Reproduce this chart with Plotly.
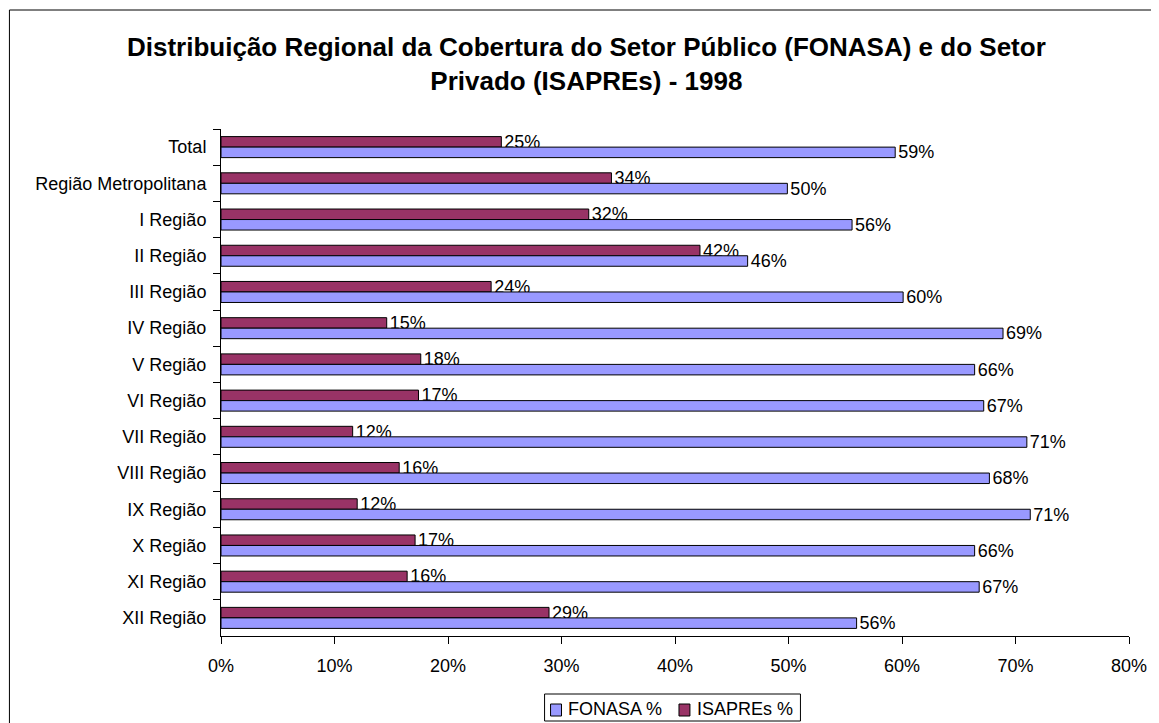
import plotly.graph_objects as go

categories = ["Total", "Região Metropolitana", "I Região", "II Região", "III Região",
              "IV Região", "V Região", "VI Região", "VII Região", "VIII Região",
              "IX Região", "X Região", "XI Região", "XII Região"]
fonasa = [59.4, 49.9, 55.6, 46.4, 60.1, 68.9, 66.4, 67.2, 71.0, 67.7, 71.3, 66.4, 66.8, 56.0]
isapres = [24.7, 34.4, 32.4, 42.2, 23.8, 14.6, 17.6, 17.4, 11.6, 15.7, 12.0, 17.1, 16.4, 28.9]

FONASA_COLOR = "#9999FF"
ISAPRE_COLOR = "#993366"
FONT = "Liberation Sans, Arial, sans-serif"

# the page body has an 8px margin; work in page pixels and convert
OFF = 8
W, H = 1159 - OFF, 723 - OFF
L, R, T, B = 221 - OFF, 1133 - OFF, 129 - OFF, 636 - OFF


def px_x(px):
    return ((px - OFF) - L) / (R - L)


def px_y(py):
    return (B - (py - OFF)) / (B - T)


fig = go.Figure()
fig.add_trace(go.Bar(
    y=categories, x=isapres, orientation="h", name="ISAPREs %",
    marker=dict(color=ISAPRE_COLOR, line=dict(color="black", width=1)),
    text=[f"{v:.0f}%" for v in isapres], textposition="outside",
    textfont=dict(size=18, color="black", family=FONT),
    constraintext="none", cliponaxis=False, showlegend=False,
))
fig.add_trace(go.Bar(
    y=categories, x=fonasa, orientation="h", name="FONASA %",
    marker=dict(color=FONASA_COLOR, line=dict(color="black", width=1)),
    text=[f"{v:.0f}%" for v in fonasa], textposition="outside",
    textfont=dict(size=18, color="black", family=FONT),
    constraintext="none", cliponaxis=False, showlegend=False,
))

fig.update_layout(
    width=W, height=H,
    margin=dict(l=L, r=W - R, t=T, b=H - B, pad=0),
    paper_bgcolor="white", plot_bgcolor="white",
    barmode="group", bargap=0.42, bargroupgap=0,
    font=dict(family=FONT, size=18, color="black"),
    xaxis=dict(range=[0, 80], tickmode="linear", tick0=0, dtick=10, ticksuffix="%",
               showgrid=False, zeroline=False, showline=True, linecolor="black",
               linewidth=1, ticks="outside", ticklen=7, tickcolor="black",
               ticklabelstandoff=6, tickfont=dict(size=18)),
    yaxis=dict(categoryorder="array", categoryarray=categories, autorange="reversed",
               showgrid=False, zeroline=False, showline=True, linecolor="black",
               linewidth=1, ticks="outside", ticklen=7, tickcolor="black",
               tickson="boundaries", ticklabelstandoff=10, tickfont=dict(size=18)),
)

shapes = [
    # outer chart border
    dict(type="rect", xref="paper", yref="paper",
         x0=px_x(8.5), x1=px_x(1175), y0=px_y(745), y1=px_y(10),
         line=dict(color="black", width=1), fillcolor="rgba(0,0,0,0)", layer="below"),
    # legend box
    dict(type="rect", xref="paper", yref="paper",
         x0=px_x(546), x1=px_x(803), y0=px_y(721), y1=px_y(694),
         line=dict(color="black", width=1), fillcolor="white"),
    # legend swatches
    dict(type="rect", xref="paper", yref="paper",
         x0=px_x(552), x1=px_x(563), y0=px_y(716), y1=px_y(704),
         line=dict(color="black", width=1), fillcolor=FONASA_COLOR),
    dict(type="rect", xref="paper", yref="paper",
         x0=px_x(681), x1=px_x(692), y0=px_y(716), y1=px_y(704),
         line=dict(color="black", width=1), fillcolor=ISAPRE_COLOR),
]
fig.update_layout(shapes=shapes)

annotations = [
    dict(text="FONASA %", xref="paper", yref="paper", x=px_x(568), y=px_y(709),
         xanchor="left", yanchor="middle", showarrow=False, font=dict(size=18)),
    dict(text="ISAPREs %", xref="paper", yref="paper", x=px_x(697), y=px_y(709),
         xanchor="left", yanchor="middle", showarrow=False, font=dict(size=18)),
    dict(text="<b>Distribuição Regional da Cobertura do Setor Público (FONASA) e do Setor<br>Privado (ISAPREs) - 1998</b>",
         xref="paper", yref="paper", x=px_x(588), y=px_y(30), xanchor="center", yanchor="top",
         showarrow=False, font=dict(size=26), align="center"),
]
fig.update_layout(annotations=annotations)

fig.write_html("out.html")
